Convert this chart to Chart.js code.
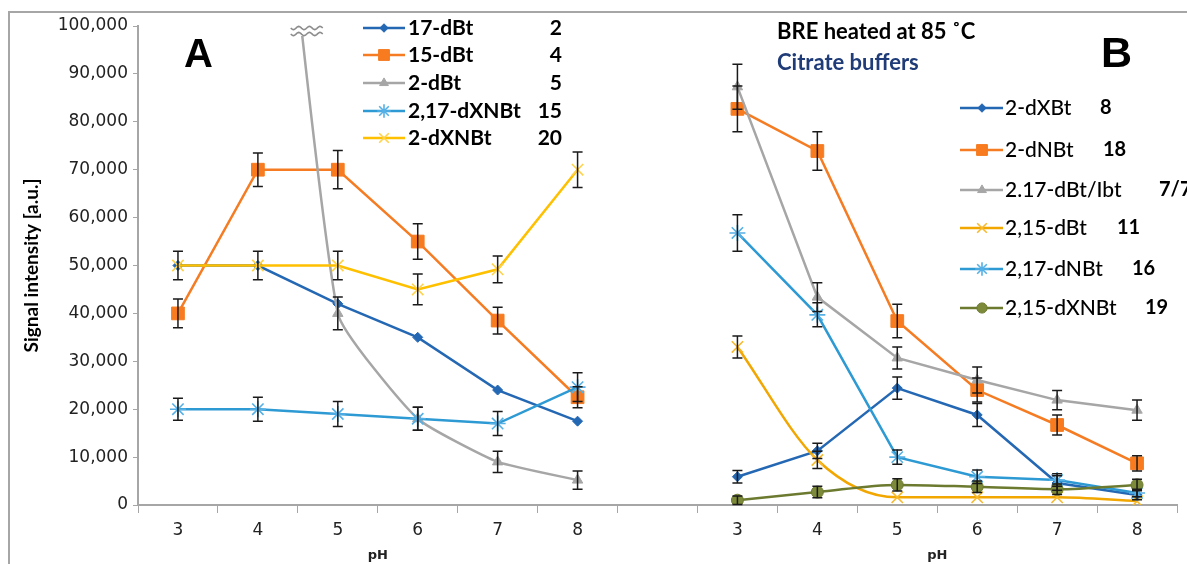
<!DOCTYPE html>
<html>
<head>
<meta charset="utf-8">
<script src="https://cdn.jsdelivr.net/npm/chart.js@4.4.1/dist/chart.umd.min.js"></script>
<style>
  html, body { margin: 0; padding: 0; background: #fff; }
  #wrap { position: relative; width: 1187px; height: 564px; }
</style>
</head>
<body>
<div id="wrap"><canvas id="chart"></canvas></div>
<script>
// pH steps used on both panels
const phValues = ['3', '4', '5', '6', '7', '8'];

// panel A (names + compound numbers shown in legend)
const namesA = ['17-dBt', '15-dBt', '2-dBt', '2,17-dXNBt', '2-dXNBt'];
const codesA = ['2', '4', '5', '15', '20'];
const a17dBt = [50000, 50000, 42000, 35000, 24000, 17500];
const a15dBt = [40000, 70000, 70000, 55000, 38500, 22500];
const a2dBt = [null, 185000, 40000, 18000, 9000, 5200];     // pH 4 runs off the top (broken axis)
const a217dXNBt = [20000, 20000, 19000, 18000, 17000, 24600];
const a2dXNBt = [50000, 50000, 50000, 45000, 49200, 70000];
const a15dBtErr = [3000, 3500, 4000, 3700, 2800, 2200];
const a2dBtErr = [null, null, 3400, 2400, 2200, 1900];
const a217dXNBtErr = [2300, 2500, 2600, 2400, 2500, 3000];
const a2dXNBtErr = [3000, 3000, 3000, 3200, 2800, 3700];

// panel B
const namesB = ['2-dXBt', '2-dNBt', '2.17-dBt/Ibt', '2,15-dBt', '2,17-dNBt', '2,15-dXNBt'];
const codesB = ['8', '18', '7/7', '11', '16', '19'];
const b2dXBt = [5900, 11300, 24400, 18800, 4600, 2100];
const b2dNBt = [82700, 73900, 38400, 24000, 16700, 8700];
const b217dBtIbt = [87300, 43400, 30700, 26100, 21900, 19800];
const b215dBt = [33000, 9400, 1600, 1600, 1600, 800];
const b217dNBt = [56800, 39700, 10000, 5900, 5200, 2500];
const b215dXNBt = [1000, 2700, 4200, 3800, 3300, 4200];
const b2dXBtErr = [1300, 1600, 2300, 2400, 1500, 1000];
const b2dNBtErr = [4800, 4000, 3500, 2500, 2100, 1600];
const b217dBtIbtErr = [4700, 3000, 2300, 2700, 2000, 2100];
const b215dBtErr = [2300, 1800, null, null, null, null];
const b217dNBtErr = [3800, 2500, 1500, 1400, 1300, 800];
const b215dXNBtErr = [900, 1200, 1300, 1200, 1100, 1200];

const categories = phValues.concat([''], phValues);

function pad(vals, side) {
  if (!vals) return null;
  const empty = vals.map(() => null);
  return side === 'A' ? vals.concat([null], empty) : empty.concat([null], vals);
}

const BLUE = '#2468b4', ORANGE = '#f57c22', GRAY = '#a6a6a6', LBLUE = '#2e9ad4',
      YELLOW = '#ffc000', GOLD = '#f2a600', OLIVE = '#6b7a2f';

const series = [
  { side: 'A', name: namesA[0], data: a17dBt, err: null, color: BLUE, pt: 'rectRot', r: 5, fill: BLUE },
  { side: 'A', name: namesA[1], data: a15dBt, err: a15dBtErr, color: ORANGE, pt: 'rect', r: 9, fill: '#f97b1f' },
  { side: 'A', name: namesA[2], data: a2dBt, err: a2dBtErr, color: GRAY, pt: 'triangle', r: 6, fill: GRAY, tension: 0.15 },
  { side: 'A', name: namesA[3], data: a217dXNBt, err: a217dXNBtErr, color: LBLUE, pt: 'star', r: 8, fill: '#55b0e6' },
  { side: 'A', name: namesA[4], data: a2dXNBt, err: a2dXNBtErr, color: YELLOW, pt: 'crossRot', r: 8, fill: '#ffd24a' },
  { side: 'B', name: namesB[0], data: b2dXBt, err: b2dXBtErr, color: BLUE, pt: 'rectRot', r: 5, fill: BLUE },
  { side: 'B', name: namesB[1], data: b2dNBt, err: b2dNBtErr, color: ORANGE, pt: 'rect', r: 9, fill: '#f97b1f' },
  { side: 'B', name: namesB[2], data: b217dBtIbt, err: b217dBtIbtErr, color: GRAY, pt: 'triangle', r: 6, fill: GRAY },
  { side: 'B', name: namesB[3], data: b215dBt, err: b215dBtErr, color: GOLD, pt: 'crossRot', r: 8, fill: '#f7b92e', smooth: true },
  { side: 'B', name: namesB[4], data: b217dNBt, err: b217dNBtErr, color: LBLUE, pt: 'star', r: 8, fill: '#55b0e6' },
  { side: 'B', name: namesB[5], data: b215dXNBt, err: b215dXNBtErr, color: OLIVE, pt: 'circle', r: 6, fill: '#7d8a3a', smooth: true }
];

const datasets = series.map((s, i) => ({
  label: s.name,
  data: pad(s.data, s.side),
  err: pad(s.err, s.side),
  order: -i, // later series on top, as in the original sheet
  borderColor: s.color,
  backgroundColor: s.fill,
  borderWidth: 2.5,
  pointStyle: s.pt,
  pointRadius: s.r,
  pointBorderColor: (s.pt === 'star' || s.pt === 'crossRot') ? s.fill : s.color,
  pointBackgroundColor: s.fill,
  pointBorderWidth: (s.pt === 'star' || s.pt === 'crossRot') ? 1.6 : 1,
  cubicInterpolationMode: s.smooth ? 'monotone' : 'default',
  tension: s.tension || 0,
  spanGaps: false
}));

function drawMarker(ctx, s, x, y) {
  ctx.save();
  ctx.fillStyle = s.fill;
  ctx.strokeStyle = (s.pt === 'star' || s.pt === 'crossRot') ? s.fill : s.color;
  ctx.lineWidth = (s.pt === 'star' || s.pt === 'crossRot') ? 1.6 : 1;
  Chart.helpers.drawPoint(ctx, { pointStyle: s.pt, radius: s.r, rotation: 0, borderWidth: ctx.lineWidth }, x, y);
  ctx.restore();
}

function wave(ctx, cx, cy, w) {
  ctx.beginPath();
  for (let i = 0; i <= w; i++) {
    const px = cx - w / 2 + i;
    const py = cy + Math.sin(i / w * Math.PI * 6) * 1.6;
    if (i === 0) ctx.moveTo(px, py); else ctx.lineTo(px, py);
  }
  ctx.stroke();
}

const overlay = {
  id: 'overlay',
  afterDatasetsDraw(chart) {
    const ctx = chart.ctx, ys = chart.scales.y, area = chart.chartArea;
    ctx.save();
    // error bars
    ctx.strokeStyle = '#1a1a1a';
    ctx.lineWidth = 1.5;
    chart.data.datasets.forEach((ds, i) => {
      if (!ds.err) return;
      const meta = chart.getDatasetMeta(i);
      ds.err.forEach((e, j) => {
        if (e == null || ds.data[j] == null) return;
        const px = meta.data[j].x;
        const top = ys.getPixelForValue(ds.data[j] + e);
        const bot = ys.getPixelForValue(ds.data[j] - e);
        ctx.beginPath();
        ctx.moveTo(px, top); ctx.lineTo(px, bot);
        ctx.moveTo(px - 5, top); ctx.lineTo(px + 5, top);
        ctx.moveTo(px - 5, bot); ctx.lineTo(px + 5, bot);
        ctx.stroke();
      });
    });
    // broken-axis mark where 2-dBt leaves the plot
    const gi = series.findIndex(s => s.data === a2dBt);
    const gd = chart.data.datasets[gi].data, gm = chart.getDatasetMeta(gi);
    for (let j = 0; j < gd.length - 1; j++) {
      if (gd[j] != null && gd[j + 1] != null && gd[j] > ys.max && gd[j + 1] <= ys.max) {
        const p1 = gm.data[j], p2 = gm.data[j + 1];
        const t = (area.top - p1.y) / (p2.y - p1.y);
        const cx = p1.x + t * (p2.x - p1.x) + 2;
        ctx.fillStyle = '#fff';
        ctx.fillRect(cx - 18, area.top - 2, 36, 12);
        ctx.strokeStyle = '#8c8c8c';
        ctx.lineWidth = 1.6;
        wave(ctx, cx, area.top + 2, 32);
        wave(ctx, cx, area.top + 8, 32);
      }
    }
    ctx.restore();
  },
  afterDraw(chart) {
    const ctx = chart.ctx, xs = chart.scales.x, ys = chart.scales.y;
    ctx.save();
    // frame
    ctx.strokeStyle = '#a6a6a6';
    ctx.lineWidth = 2;
    ctx.beginPath();
    ctx.moveTo(9, 564); ctx.lineTo(9, 12); ctx.lineTo(1187, 12);
    ctx.stroke();

    // y title
    ctx.fillStyle = '#000';
    ctx.font = 'bold 19px Lato';
    ctx.textAlign = 'center';
    ctx.textBaseline = 'middle';
    ctx.save();
    ctx.translate(32, (ys.top + ys.bottom) / 2);
    ctx.rotate(-Math.PI / 2);
    ctx.fillText('Signal intensity [a.u.]', 0, 0);
    ctx.restore();

    // pH titles under each panel
    ctx.font = 'bold 13px "DejaVu Sans"';
    ctx.fillStyle = '#222';
    const half = (xs.getPixelForValue(1) - xs.getPixelForValue(0)) / 2;
    ctx.fillText('pH', xs.getPixelForValue(2) + half, 556);
    ctx.fillText('pH', xs.getPixelForValue(9) + half, 556);

    // panel letters
    ctx.fillStyle = '#000';
    ctx.font = 'bold 40px "Liberation Sans"';
    ctx.textAlign = 'left';
    ctx.textBaseline = 'alphabetic';
    ctx.fillText('A', 184, 67);
    ctx.font = 'bold 43px "Liberation Sans"';
    ctx.fillText('B', 1101, 67);

    // panel B heading
    ctx.font = 'bold 22px Lato';
    ctx.textBaseline = 'middle';
    ctx.fillText('BRE heated at 85 \u02DAC', 777, 32);
    ctx.fillStyle = '#1f3c78';
    ctx.fillText('Citrate buffers', 777, 63);

    // legend A
    const rowsA = [28, 55, 83, 111, 138];
    series.filter(s => s.side === 'A').forEach((s, k) => {
      const y = rowsA[k];
      ctx.strokeStyle = s.color; ctx.lineWidth = 2.5;
      ctx.beginPath(); ctx.moveTo(363, y); ctx.lineTo(405, y); ctx.stroke();
      drawMarker(ctx, Object.assign({}, s, { r: s.r * 0.85 }), 384, y);
      ctx.fillStyle = '#000';
      ctx.font = 'bold 21px Lato';
      ctx.textAlign = 'left';
      ctx.fillText(s.name, 408, y);
      ctx.textAlign = 'right';
      ctx.fillText(codesA[k], 562, y);
    });

    // legend B
    const rowsB = [108, 150, 190, 228, 269, 308];
    const codeX = [1100, 1103, 1159, 1117, 1132, 1145];
    series.filter(s => s.side === 'B').forEach((s, k) => {
      const y = rowsB[k];
      ctx.strokeStyle = s.color; ctx.lineWidth = 2.5;
      ctx.beginPath(); ctx.moveTo(960, y); ctx.lineTo(1003, y); ctx.stroke();
      drawMarker(ctx, Object.assign({}, s, { r: s.r * 0.85 }), 982, y);
      ctx.fillStyle = '#000';
      ctx.font = '500 21px Lato';
      ctx.textAlign = 'left';
      ctx.fillText(s.name, 1005, y);
      ctx.font = 'bold 20px Lato';
      ctx.fillText(codesB[k], codeX[k], y);
    });
    ctx.restore();
  }
};

new Chart(document.getElementById('chart'), {
  type: 'line',
  data: { labels: categories, datasets: datasets },
  options: {
    responsive: true,
    maintainAspectRatio: false,
    animation: false,
    layout: { padding: { top: 26, right: 0, left: 0, bottom: 0 } },
    plugins: { legend: { display: false }, tooltip: { enabled: false } },
    scales: {
      x: {
        type: 'category',
        offset: true,
        grid: { display: true, drawOnChartArea: false, drawTicks: true, tickLength: 8, color: '#a6a6a6', offset: true },
        border: { display: true, color: '#a6a6a6', width: 2 },
        ticks: { color: '#222', font: { family: 'DejaVu Sans', size: 17 }, padding: 7, maxRotation: 0, autoSkip: false },
        afterFit(scale) { scale.height = 59; }
      },
      y: {
        min: 0,
        max: 100000,
        grid: { display: true, drawOnChartArea: false, drawTicks: true, tickLength: 5, color: '#a6a6a6' },
        border: { display: true, color: '#a6a6a6', width: 2 },
        ticks: {
          stepSize: 10000,
          color: '#222',
          padding: 5,
          font: { family: 'DejaVu Sans', size: 17 },
          callback: v => v.toLocaleString('en-US')
        },
        afterFit(scale) { scale.width = 138; }
      }
    }
  },
  plugins: [overlay]
});
</script>
</body>
</html>
